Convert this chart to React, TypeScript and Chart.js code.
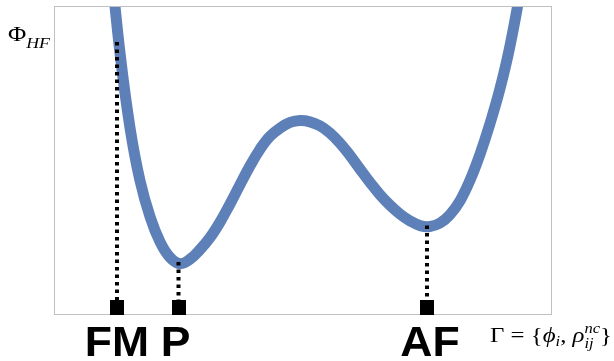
import React, { useEffect, useRef } from "react";
import { Chart, registerables } from "chart.js";

Chart.register(...registerables);

// Free-energy landscape Φ_HF along the order-parameter coordinate Γ
const curveX = [11.1, 13.1, 15.1, 17.1, 19.2, 21.2, 23.2, 25.2, 27.2, 29.2, 31.3, 33.3, 35.3, 37.3, 39.3, 41.3, 43.3, 45.4, 47.4, 49.4, 51.4, 53.4, 55.4, 57.5, 59.5, 61.5, 63.5, 65.5, 67.5, 69.6, 71.6, 73.6, 75.6, 77.6, 79.6, 81.7, 83.7, 85.7, 87.7, 89.7, 91.7, 93.8, 95.8];
const curveY = [116.4, 85.1, 60.9, 43.7, 31.5, 23.4, 18.4, 16.4, 17.8, 20.9, 25.0, 30.0, 35.9, 42.1, 48.2, 53.6, 57.8, 60.6, 62.4, 63.0, 62.6, 61.3, 59.0, 55.6, 51.6, 47.2, 42.9, 38.9, 35.5, 32.5, 30.3, 28.8, 28.5, 29.6, 32.3, 37.0, 43.7, 52.1, 62.0, 73.3, 87.1, 105.5, 129.2];

// Phases marked on the axis
const phaseLabels = ["FM", "P", "AF"];
const phaseX = [12.5, 24.9, 75.0];
const phaseTop = [88.6, 16.9, 28.8];

const CURVE_COLOR = "#5e80b8";

type Piece = { t: string; font: string; dy: number; sameX?: boolean };

function drawPieces(ctx: CanvasRenderingContext2D, pieces: Piece[], x0: number, base: number, targetW: number) {
  let w = 0;
  let lastW = 0;
  for (const p of pieces) {
    ctx.font = p.font;
    const m = ctx.measureText(p.t).width;
    if (p.sameX) {
      w = w - lastW + Math.max(lastW, m);
      lastW = Math.max(lastW, m);
    } else {
      w += m;
      lastW = m;
    }
  }
  const sx = targetW / w;
  ctx.save();
  ctx.translate(x0, base);
  ctx.scale(sx, 1);
  ctx.fillStyle = "#000";
  ctx.textAlign = "left";
  ctx.textBaseline = "alphabetic";
  let x = 0;
  let prevX = 0;
  let prevW = 0;
  for (const p of pieces) {
    ctx.font = p.font;
    const m = ctx.measureText(p.t).width;
    if (p.sameX) {
      ctx.fillText(p.t, prevX, p.dy);
      const nw = Math.max(prevW, m);
      x = prevX + nw;
      prevW = nw;
    } else {
      ctx.fillText(p.t, x, p.dy);
      prevX = x;
      prevW = m;
      x += m;
    }
  }
  ctx.restore();
}

const labelShift = [0, -3, 3];

const decorPlugin = {
  id: "decor",
  beforeDatasetsDraw(chart: any) {
    const { ctx, chartArea } = chart;
    ctx.save();
    ctx.strokeStyle = "#c0c0c0";
    ctx.lineWidth = 1;
    ctx.strokeRect(chartArea.left - 0.5, chartArea.top - 0.5, chartArea.right - chartArea.left + 1, chartArea.bottom - chartArea.top + 1);
    ctx.restore();
  },
  afterDatasetsDraw(chart: any) {
    const { ctx, chartArea, scales } = chart;
    const xs = scales.x;
    ctx.save();
    ctx.fillStyle = "#000";
    phaseX.forEach((v) => {
      const px = xs.getPixelForValue(v);
      ctx.fillRect(Math.round(px - 7), chartArea.bottom - 14, 14, 15);
    });
    ctx.font = 'bold 42px "Liberation Sans", Arial, sans-serif';
    ctx.textAlign = "center";
    ctx.textBaseline = "alphabetic";
    phaseLabels.forEach((lab, i) => {
      const px = xs.getPixelForValue(phaseX[i]);
      ctx.save();
      ctx.translate(px + labelShift[i], 356);
      ctx.scale(1.06, 1);
      ctx.fillText(lab, 0, 0);
      ctx.restore();
    });
    ctx.restore();

    const serif = '"Liberation Serif", "DejaVu Serif", serif';
    drawPieces(
      ctx,
      [
        { t: "Φ", font: `21px ${serif}`, dy: 0 },
        { t: "HF", font: `italic 15px ${serif}`, dy: 7 },
      ],
      8,
      41,
      42
    );
    drawPieces(
      ctx,
      [
        { t: "Γ", font: `21px ${serif}`, dy: 0 },
        { t: " = ", font: `21px ${serif}`, dy: 0 },
        { t: "{", font: `21px ${serif}`, dy: 0 },
        { t: "ϕ", font: `italic 21px ${serif}`, dy: 0 },
        { t: "i", font: `italic 14px ${serif}`, dy: 4 },
        { t: ", ", font: `21px ${serif}`, dy: 0 },
        { t: "ρ", font: `italic 21px ${serif}`, dy: 0 },
        { t: "nc", font: `italic 14px ${serif}`, dy: -9 },
        { t: "ij", font: `italic 14px ${serif}`, dy: 6, sameX: true },
        { t: "}", font: `21px ${serif}`, dy: 0 },
      ],
      490,
      342,
      122
    );
  },
};

export default function App() {
  const ref = useRef<HTMLCanvasElement>(null);
  useEffect(() => {
    if (!ref.current) return;
    const curveData = curveX.map((x, i) => ({ x, y: curveY[i] }));
    const dottedSets = phaseX.map((x, i) => ({
      type: "line" as const,
      data: [
        { x, y: phaseTop[i] },
        { x, y: 0 },
      ],
      borderColor: "#000",
      borderWidth: 4,
      borderDash: [3.5, 4],
      borderCapStyle: "butt" as const,
      pointRadius: 0,
      tension: 0,
      fill: false,
      clip: false as any,
      order: 1,
    }));
    const chart = new Chart(ref.current, {
      type: "line",
      data: {
        datasets: [
          ...dottedSets,
          {
            data: curveData,
            borderColor: CURVE_COLOR,
            borderWidth: 11,
            pointRadius: 0,
            tension: 0.4,
            fill: false,
            clip: 0 as any,
            order: 2,
          },
        ] as any,
      },
      options: {
        responsive: false,
        animation: false,
        layout: { padding: { left: 55, top: 7, right: 63, bottom: 47 } },
        scales: {
          x: { type: "linear", min: 0, max: 100, display: false },
          y: { type: "linear", min: 0, max: 100, display: false },
        },
        plugins: { legend: { display: false }, tooltip: { enabled: false } },
        events: [],
      },
      plugins: [decorPlugin],
    });
    return () => chart.destroy();
  }, []);
  return (
    <div style={{ position: "absolute", left: 0, top: 0, width: 614, height: 361, background: "#fff" }}>
      <canvas ref={ref} width={614} height={361} style={{ display: "block" }} />
    </div>
  );
}
